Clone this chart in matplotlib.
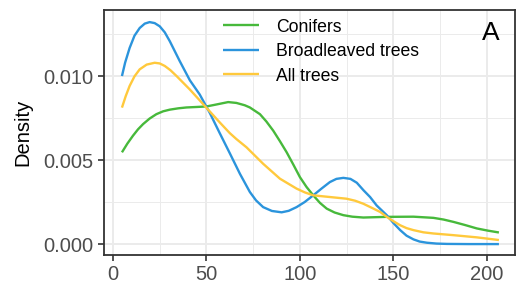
import matplotlib
matplotlib.use("Agg")
import matplotlib.pyplot as plt
from matplotlib.ticker import MultipleLocator, FormatStrFormatter

plt.rcParams['font.family'] = ['Liberation Sans', 'DejaVu Sans']

con_x = [4.8, 7.7, 10.7, 13.4, 16.1, 19.6, 23.2, 26.8, 30.4, 35, 39.3, 45, 50, 55, 61.6,
         66, 70.5, 73.2, 78.6, 82, 85.7, 89.3, 92.9, 96.5, 100, 103.5, 107.1, 110.7, 114.3,
         118.5, 123.2, 128, 133.9, 146.4, 160.7, 171.4, 176.8, 182.1, 188.4, 194.6, 200.5,
         206.4]
con_y = [0.00546, 0.00598, 0.00645, 0.00683, 0.00714, 0.00747, 0.00773, 0.0079, 0.0080,
         0.00808, 0.00813, 0.00816, 0.00819, 0.0083, 0.00845, 0.0084, 0.00826, 0.00813,
         0.00773, 0.0073, 0.00675, 0.00612, 0.00546, 0.00472, 0.00398, 0.0034, 0.0029,
         0.00245, 0.00211, 0.00188, 0.00172, 0.00163, 0.00158, 0.00162, 0.00163, 0.00156,
         0.00146, 0.00132, 0.00113, 0.00093, 0.0008, 0.00069]

bro_x = [4.8, 6.5, 8.9, 11.5, 14.3, 17, 19.6, 22.3, 25, 27.7, 30.4, 35.7, 41.1, 46.4, 51.8,
         57.1, 62.5, 67.9, 73.2, 76.5, 80.3, 85, 90.2, 94, 98.2, 102.5, 107.1, 111.5, 116,
         119.5, 123.2, 127, 130.4, 134, 137.5, 141, 146.4, 150, 153.6, 157, 160.7, 164,
         167.9, 173, 178.6, 190, 206.4]
bro_y = [0.0100, 0.0108, 0.01167, 0.0124, 0.01286, 0.01312, 0.01321, 0.01315, 0.01296,
         0.0126, 0.01207, 0.01089, 0.00975, 0.0089, 0.0078, 0.0066, 0.0054, 0.00418, 0.0031,
         0.0026, 0.0022, 0.00197, 0.00189, 0.00198, 0.0022, 0.0025, 0.0029, 0.0033, 0.00369,
         0.00388, 0.00394, 0.00388, 0.00365, 0.0032, 0.0028, 0.0023, 0.00172, 0.00125,
         0.00083, 0.0005, 0.00028, 0.00015, 0.00008, 0.00003, 0.00001, 0.0, 0.0]

all_x = [4.8, 6.8, 8.9, 11.5, 14.3, 18, 22.3, 25, 27.7, 30.7, 34, 41.1, 49.1, 57.1, 62.5,
         66, 71.4, 80.3, 89.3, 98.2, 102.5, 107.1, 116, 124.9, 129.5, 133.9, 139.3, 142.9,
         146.4, 150, 153.6, 157, 160.7, 166, 171.4, 182.1, 194.6, 206.4]
all_y = [0.00812, 0.0088, 0.00941, 0.00998, 0.0104, 0.01068, 0.01079, 0.01075, 0.0106,
         0.01035, 0.0100, 0.0092, 0.00822, 0.00724, 0.0066, 0.00625, 0.00576, 0.00478,
         0.00389, 0.0033, 0.00308, 0.0029, 0.0028, 0.0027, 0.00258, 0.0024, 0.00211,
         0.00191, 0.00162, 0.00136, 0.00112, 0.00095, 0.00083, 0.0007, 0.00063, 0.00053,
         0.0004, 0.00024]

labels = ["Conifers", "Broadleaved trees", "All trees"]
colors = ["#47B93B", "#2B94DC", "#FFC93C"]
panel_tag = "A"

fig = plt.figure(figsize=(5.16, 2.88), dpi=100)
ax = fig.add_axes([104/516, 33/288, (515-104)/516, (255-10)/288])

for xs, ys, lab, col in zip([con_x, bro_x, all_x], [con_y, bro_y, all_y], labels, colors):
    ax.plot(xs, ys, color=col, lw=1.7, label=lab, solid_capstyle='butt',
            solid_joinstyle='round')

ax.set_xlim(-4.8, 215)
ax.set_ylim(-0.00065, 0.01393)
ax.xaxis.set_major_locator(MultipleLocator(50))
ax.xaxis.set_minor_locator(MultipleLocator(25))
ax.yaxis.set_major_locator(MultipleLocator(0.005))
ax.yaxis.set_minor_locator(MultipleLocator(0.0025))
ax.yaxis.set_major_formatter(FormatStrFormatter('%.3f'))
ax.grid(which='major', color='#EBEBEB', lw=1.4)
ax.grid(which='minor', color='#EBEBEB', lw=0.7)
ax.set_axisbelow(True)
for s in ax.spines.values():
    s.set_color('#333333')
    s.set_linewidth(1.3)
ax.tick_params(which='major', length=4, width=1.2, color='#333333', labelcolor='#4D4D4D',
               labelsize=14.5, pad=3.5)
ax.tick_params(which='minor', length=0)
ax.set_ylabel("Density", fontsize=14.5, color='black', labelpad=8)

leg = ax.legend(loc='upper left', bbox_to_anchor=((223-104)/411, 1.0 - 8.5/245),
                frameon=False, fontsize=12.7, handlelength=2.05, handletextpad=0.97,
                labelspacing=0.43, borderaxespad=0, borderpad=0)
ax.text(201.8, 0.01254, panel_tag, fontsize=19, ha='center', va='center')

fig.savefig("out.png", dpi=100)
